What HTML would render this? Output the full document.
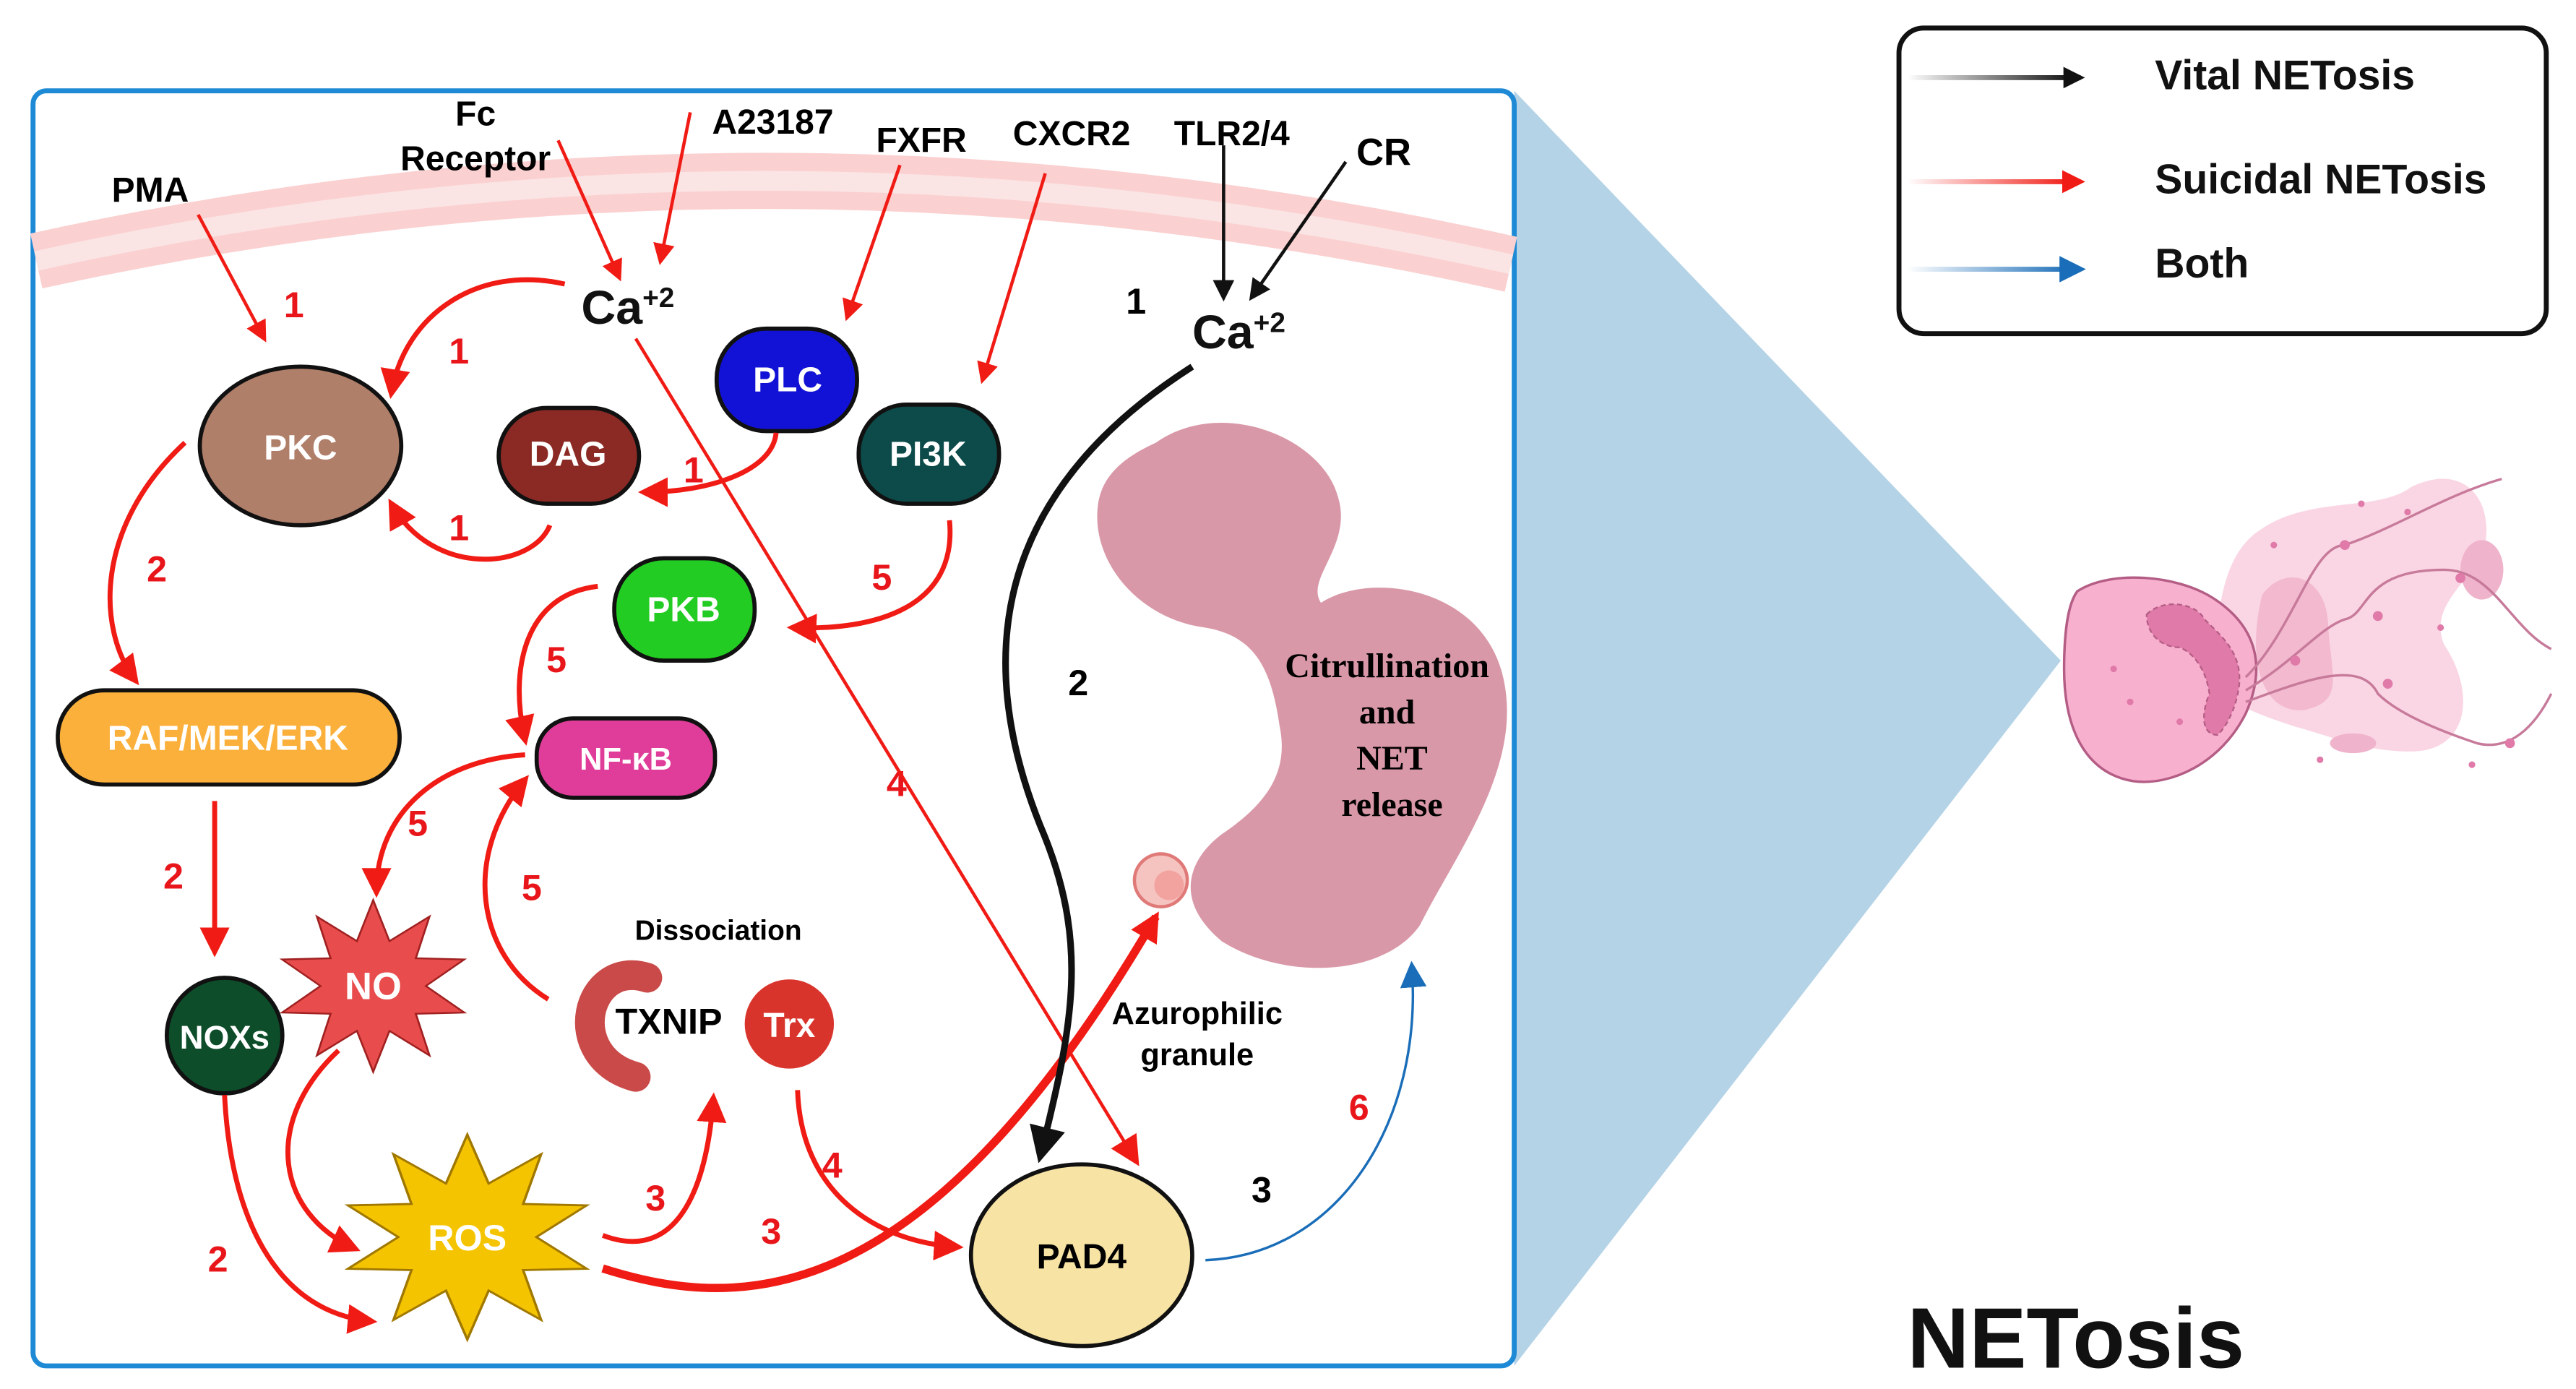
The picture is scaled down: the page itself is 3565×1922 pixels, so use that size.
<!DOCTYPE html>
<html><head><meta charset="utf-8">
<style>
html,body{margin:0;padding:0;background:#fff;}
svg{display:block;}
text{font-family:"Liberation Sans",Arial,sans-serif;font-weight:bold;}
.w{fill:#fff;font-size:21px;text-anchor:middle;}
.r{fill:#e8161b;font-size:22px;text-anchor:middle;}
.k{fill:#000;font-size:21px;text-anchor:middle;}
.ra{fill:none;stroke:#f01b14;}
</style></head>
<body>
<svg width="3565" height="1922" viewBox="0 0 1560 841" preserveAspectRatio="none" xmlns="http://www.w3.org/2000/svg">
<defs>
<marker id="mr" viewBox="0 0 10 10" refX="8" refY="5" markerWidth="14" markerHeight="14" orient="auto" markerUnits="userSpaceOnUse"><path d="M0,0L10,5L0,10z" fill="#f01b14"/></marker>
<marker id="mrL" viewBox="0 0 10 10" refX="8" refY="5" markerWidth="18" markerHeight="18" orient="auto" markerUnits="userSpaceOnUse"><path d="M0,0L10,5L0,10z" fill="#f01b14"/></marker>
<marker id="mrS" viewBox="0 0 10 10" refX="8" refY="5" markerWidth="13" markerHeight="13" orient="auto" markerUnits="userSpaceOnUse"><path d="M0,0L10,5L0,10z" fill="#f01b14"/></marker>
<marker id="mk" viewBox="0 0 10 10" refX="8" refY="5" markerWidth="13" markerHeight="13" orient="auto" markerUnits="userSpaceOnUse"><path d="M0,0L10,5L0,10z" fill="#111"/></marker>
<marker id="mkL" viewBox="0 0 10 10" refX="8" refY="5" markerWidth="22" markerHeight="22" orient="auto" markerUnits="userSpaceOnUse"><path d="M0,0L10,5L0,10z" fill="#111"/></marker>
<marker id="mb" viewBox="0 0 10 10" refX="8" refY="5" markerWidth="16" markerHeight="16" orient="auto" markerUnits="userSpaceOnUse"><path d="M0,0L10,5L0,10z" fill="#1a6db8"/></marker>
<linearGradient id="gk" gradientUnits="userSpaceOnUse" x1="1155" y1="0" x2="1255" y2="0"><stop offset="0" stop-color="#fff"/><stop offset="1" stop-color="#111"/></linearGradient>
<linearGradient id="gr" gradientUnits="userSpaceOnUse" x1="1155" y1="0" x2="1255" y2="0"><stop offset="0" stop-color="#fff"/><stop offset="1" stop-color="#f01b14"/></linearGradient>
<linearGradient id="gb" gradientUnits="userSpaceOnUse" x1="1155" y1="0" x2="1255" y2="0"><stop offset="0" stop-color="#fff"/><stop offset="1" stop-color="#1a6db8"/></linearGradient>
</defs>

<polygon points="917,55 917,827 1248,400" fill="#b4d3e6"/>

<rect x="20" y="55" width="897" height="772" rx="8" fill="#fff" stroke="#1e8ad6" stroke-width="3"/>

<path d="M22,158 Q468,60 915,160" fill="none" stroke="#fbd0d0" stroke-width="34"/>
<path d="M22,158 Q468,60 915,160" fill="none" stroke="#fbe4e4" stroke-width="12"/>

<path d="M700,268 C740,240 800,265 810,300 C820,330 790,350 800,365 C830,345 905,355 912,420 C918,470 880,520 860,560 C840,590 780,595 740,570 C710,545 720,520 740,505 C770,485 780,465 775,440 C770,405 760,385 730,380 C690,375 660,340 665,305 C668,285 685,275 700,268 Z" fill="#d998a8"/>
<circle cx="703" cy="533" r="16" fill="#f6c4c0" stroke="#e07a78" stroke-width="2"/>
<circle cx="708" cy="536" r="9" fill="#f2a3a0"/>

<rect x="1150" y="17" width="392" height="185" rx="15" fill="#fff" stroke="#111" stroke-width="3"/>
<line x1="1155" y1="47" x2="1260" y2="47" stroke="url(#gk)" stroke-width="3" marker-end="url(#mk)"/>
<line x1="1155" y1="110" x2="1260" y2="110" stroke="url(#gr)" stroke-width="3" marker-end="url(#mr)"/>
<line x1="1155" y1="163" x2="1260" y2="163" stroke="url(#gb)" stroke-width="3" marker-end="url(#mb)"/>
<text x="1305" y="54" style="font-size:25px" fill="#111">Vital NETosis</text>
<text x="1305" y="117" style="font-size:25px" fill="#111">Suicidal NETosis</text>
<text x="1305" y="168" style="font-size:25px" fill="#111">Both</text>

<text x="1155" y="828" style="font-size:52px" fill="#111">NETosis</text>

<path d="M1370,320 C1400,300 1440,310 1460,295 C1490,280 1510,300 1505,330 C1500,350 1470,365 1480,390 C1500,420 1495,455 1460,455 C1430,455 1410,445 1390,440 C1360,430 1330,420 1340,390 C1345,370 1345,335 1370,320 Z" fill="#fad6e4"/>
<path d="M1370,360 C1385,340 1410,350 1410,380 C1412,410 1420,425 1395,430 C1370,432 1360,400 1370,360 Z" fill="#f3b9cf"/>
<ellipse cx="1503" cy="345" rx="13" ry="18" fill="#efb3cb"/>
<ellipse cx="1425" cy="450" rx="14" ry="6" fill="#efb3cb"/>
<path d="M1258,358 C1278,345 1318,348 1340,362 C1368,380 1372,405 1360,432 C1345,462 1315,476 1292,473 C1262,468 1250,440 1250,405 C1250,385 1252,366 1258,358 Z" fill="#f8b0cf" stroke="#b45d85" stroke-width="1.5"/>
<path d="M1300,372 C1310,362 1330,365 1335,375 C1345,385 1358,395 1356,415 C1354,430 1348,440 1343,445 C1333,445 1333,432 1338,420 C1336,405 1328,395 1320,392 C1310,392 1300,385 1300,372 Z" fill="#e07aa8" stroke="#b45d85" stroke-width="1" stroke-dasharray="3,2"/>
<g fill="none" stroke="#c77a9a" stroke-width="1.5">
<path d="M1360,410 C1390,380 1400,330 1420,330 C1450,320 1480,300 1515,290"/>
<path d="M1360,418 C1390,400 1405,380 1420,375 C1435,372 1430,345 1480,345 C1510,345 1520,380 1545,393"/>
<path d="M1360,425 C1400,410 1430,400 1440,420 C1450,430 1470,440 1500,450 C1520,455 1535,440 1545,420"/>
</g>
<g fill="#e07aa8">
<circle cx="1420" cy="330" r="3"/><circle cx="1440" cy="373" r="3"/><circle cx="1490" cy="350" r="3"/><circle cx="1446" cy="414" r="3"/><circle cx="1520" cy="450" r="3"/><circle cx="1390" cy="400" r="3"/>
<circle cx="1377" cy="330" r="2"/><circle cx="1430" cy="305" r="2"/><circle cx="1458" cy="310" r="2"/><circle cx="1405" cy="460" r="2"/><circle cx="1497" cy="463" r="2"/><circle cx="1478" cy="380" r="2"/><circle cx="1280" cy="405" r="2"/><circle cx="1290" cy="425" r="2"/><circle cx="1320" cy="437" r="2"/>
</g>

<ellipse cx="182" cy="270" rx="61" ry="48" fill="#b07f6a" stroke="#111" stroke-width="2.5"/>
<text class="w" x="182" y="278">PKC</text>
<rect x="302" y="247" width="85" height="58" rx="29" fill="#8b2a24" stroke="#111" stroke-width="2.5"/>
<text class="w" x="344" y="282">DAG</text>
<rect x="434" y="199" width="85" height="62" rx="30" fill="#1212d6" stroke="#111" stroke-width="2.5"/>
<text class="w" x="477" y="237">PLC</text>
<rect x="520" y="245" width="85" height="60" rx="29" fill="#0c4b4a" stroke="#111" stroke-width="2.5"/>
<text class="w" x="562" y="282">PI3K</text>
<rect x="372" y="338" width="85" height="62" rx="30" fill="#22cc22" stroke="#111" stroke-width="2.5"/>
<text class="w" x="414" y="376">PKB</text>
<rect x="325" y="435" width="108" height="48" rx="22" fill="#e03d9a" stroke="#111" stroke-width="2.5"/>
<text class="w" x="379" y="466" style="font-size:19px">NF-κB</text>
<rect x="35" y="418" width="207" height="57" rx="28" fill="#fbb03b" stroke="#111" stroke-width="2.5"/>
<text class="w" x="138" y="454">RAF/MEK/ERK</text>
<circle cx="136" cy="627" r="35" fill="#0d4d2a" stroke="#111" stroke-width="2.5"/>
<text class="w" x="136" y="635" style="font-size:20px">NOXs</text>
<polygon transform="translate(226,597) scale(58,52)" fill="#e84c4c" stroke="#a02020" stroke-width="0.02"
 points="0,-1 0.17,-0.523 0.588,-0.809 0.445,-0.323 0.951,-0.309 0.55,0 0.951,0.309 0.445,0.323 0.588,0.809 0.17,0.523 0,1 -0.17,0.523 -0.588,0.809 -0.445,0.323 -0.951,0.309 -0.55,0 -0.951,-0.309 -0.445,-0.323 -0.588,-0.809 -0.17,-0.523"/>
<text class="w" x="226" y="605" style="font-size:23px">NO</text>
<polygon transform="translate(283,749) scale(76,62)" fill="#f5c400" stroke="#a07800" stroke-width="0.02"
 points="0,-1 0.17,-0.523 0.588,-0.809 0.445,-0.323 0.951,-0.309 0.55,0 0.951,0.309 0.445,0.323 0.588,0.809 0.17,0.523 0,1 -0.17,0.523 -0.588,0.809 -0.445,0.323 -0.951,0.309 -0.55,0 -0.951,-0.309 -0.445,-0.323 -0.588,-0.809 -0.17,-0.523"/>
<text class="w" x="283" y="757" style="font-size:22px">ROS</text>
<path d="M392,592 C355,580 340,640 385,652" fill="none" stroke="#c94a48" stroke-width="18" stroke-linecap="round"/>
<text class="k" x="405" y="626" style="font-size:22px">TXNIP</text>
<circle cx="478" cy="620" r="27" fill="#d9342b"/>
<text class="w" x="478" y="628">Trx</text>
<text class="k" x="435" y="569" style="font-size:17px">Dissociation</text>
<ellipse cx="655" cy="760" rx="67" ry="55" fill="#f7e3a4" stroke="#111" stroke-width="2.5"/>
<text class="k" x="655" y="768">PAD4</text>

<text class="k" x="91" y="122">PMA</text>
<text class="k" x="288" y="76">Fc</text>
<text class="k" x="288" y="103">Receptor</text>
<text class="k" x="468" y="81">A23187</text>
<text class="k" x="558" y="92">FXFR</text>
<text class="k" x="649" y="88">CXCR2</text>
<text class="k" x="746" y="88">TLR2/4</text>
<text class="k" x="838" y="100" style="font-size:23px">CR</text>
<text x="352" y="196" style="font-size:29px" fill="#111">Ca<tspan dy="-10" style="font-size:17px">+2</tspan></text>
<text x="722" y="211" style="font-size:29px" fill="#111">Ca<tspan dy="-10" style="font-size:17px">+2</tspan></text>
<text class="k" x="840" y="410" style="font-family:'Liberation Serif',serif;font-size:21px">Citrullination</text>
<text class="k" x="840" y="438" style="font-family:'Liberation Serif',serif;font-size:21px">and</text>
<text class="k" x="843" y="466" style="font-family:'Liberation Serif',serif;font-size:21px">NET</text>
<text class="k" x="843" y="494" style="font-family:'Liberation Serif',serif;font-size:21px">release</text>
<text class="k" x="725" y="620" style="font-size:19px">Azurophilic</text>
<text class="k" x="725" y="645" style="font-size:19px">granule</text>

<text class="r" x="178" y="192">1</text>
<text class="r" x="278" y="220">1</text>
<text class="r" x="420" y="292">1</text>
<text class="r" x="278" y="327">1</text>
<text class="r" x="95" y="352">2</text>
<text class="r" x="105" y="538">2</text>
<text class="r" x="132" y="770">2</text>
<text class="r" x="534" y="357">5</text>
<text class="r" x="337" y="407">5</text>
<text class="r" x="253" y="506">5</text>
<text class="r" x="322" y="545">5</text>
<text class="r" x="543" y="482">4</text>
<text class="r" x="504" y="713">4</text>
<text class="r" x="397" y="733">3</text>
<text class="r" x="467" y="753">3</text>
<text class="r" x="823" y="678">6</text>
<text class="k" x="688" y="190" style="font-size:22px">1</text>
<text class="k" x="653" y="421" style="font-size:22px">2</text>
<text class="k" x="764" y="728" style="font-size:22px">3</text>

<g class="ra" stroke-width="2">
<line x1="120" y1="130" x2="160" y2="205" marker-end="url(#mrS)"/>
<line x1="338" y1="85" x2="375" y2="168" marker-end="url(#mrS)"/>
<line x1="418" y1="68" x2="400" y2="158" marker-end="url(#mrS)"/>
<line x1="545" y1="100" x2="513" y2="192" marker-end="url(#mrS)"/>
<line x1="633" y1="105" x2="595" y2="230" marker-end="url(#mrS)"/>
</g>
<g class="ra" stroke-width="3">
<path d="M342,172 C290,160 245,190 237,238" marker-end="url(#mrL)"/>
<path d="M470,262 C468,285 430,298 390,298" marker-end="url(#mrL)"/>
<path d="M333,318 C322,345 262,350 237,305" marker-end="url(#mrL)"/>
<path d="M575,315 C580,368 530,382 480,380" marker-end="url(#mrL)"/>
<path d="M362,355 C318,360 308,405 318,448" marker-end="url(#mrL)"/>
<path d="M112,268 C58,318 58,380 82,412" marker-end="url(#mrL)"/>
<line x1="130" y1="485" x2="130" y2="576" marker-end="url(#mrL)"/>
<path d="M318,457 C268,460 228,490 228,540" marker-end="url(#mrL)"/>
<path d="M332,605 C288,578 280,518 318,472" marker-end="url(#mrL)"/>
<path d="M136,663 C140,745 172,795 225,800" marker-end="url(#mrL)"/>
<path d="M205,636 C158,680 168,735 215,756" marker-end="url(#mrL)"/>
<path d="M365,748 C410,765 428,720 432,665" marker-end="url(#mrL)"/>
<path d="M483,660 C485,722 530,752 580,755" marker-end="url(#mrL)"/>
</g>
<path d="M365,768 C450,795 560,795 700,555" class="ra" stroke-width="5" marker-end="url(#mrL)"/>
<path d="M385,205 L688,703" class="ra" stroke-width="2" marker-end="url(#mrL)"/>
<path d="M722,222 C600,300 590,400 630,500 C660,570 650,620 630,700" fill="none" stroke="#111" stroke-width="4" marker-end="url(#mkL)"/>
<line x1="741" y1="88" x2="741" y2="180" stroke="#111" stroke-width="2" marker-end="url(#mk)"/>
<line x1="815" y1="98" x2="758" y2="180" stroke="#111" stroke-width="2" marker-end="url(#mk)"/>
<path d="M730,763 C810,760 862,680 855,585" fill="none" stroke="#1a6db8" stroke-width="1.5" marker-end="url(#mb)"/>
</svg>
</body></html>
